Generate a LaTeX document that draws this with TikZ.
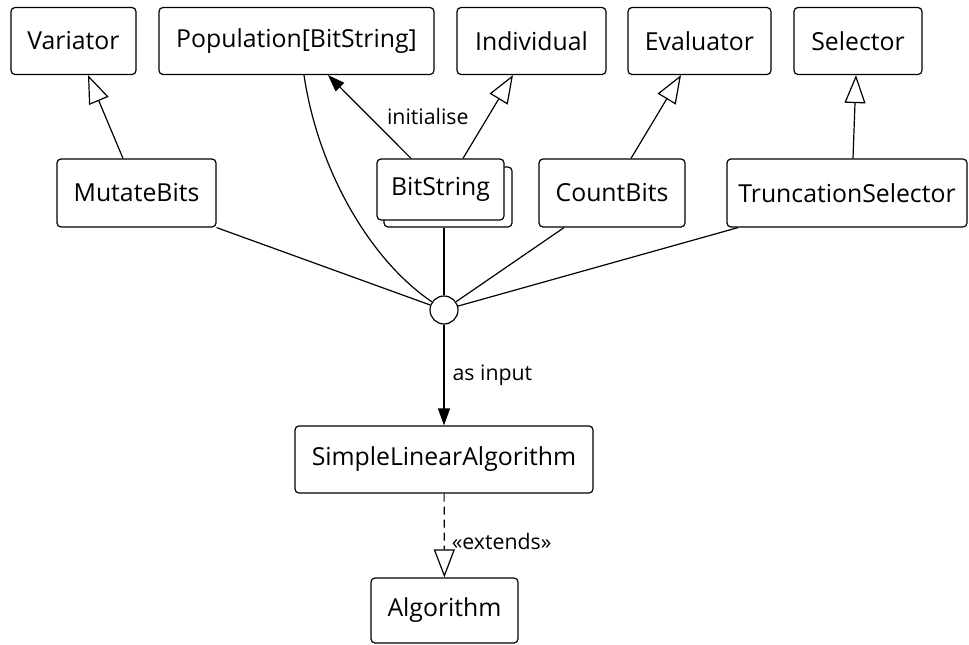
\documentclass[tikz,border=0pt]{standalone}
\usepackage{fontspec}
\setmainfont{Open Sans}
\usetikzlibrary{arrows.meta}
\begin{document}
\begin{tikzpicture}[x=1pt,y=-1pt,
  line width=1.2pt,
  box/.style={draw, rounded corners=4pt, fill=white, inner sep=0pt,
    font=\fontsize{24.8}{29}\selectfont},
  lbl/.style={inner sep=0pt, font=\fontsize{21.3}{26}\selectfont},
  gen/.style={-{Triangle[open, fill=white, length=28pt, width=21pt]}},
  nav/.style={-{Triangle[length=17pt, width=12pt]}}]
\useasboundingbox (0,0) rectangle (969,645);
% top row
\node[box, minimum width=125pt, minimum height=67pt] (var) at (73.5,41) {Variator};
\node[box, minimum width=275pt, minimum height=67pt] (pop) at (296.5,41) {Population[BitString]};
\node[box, minimum width=149pt, minimum height=67pt] (ind) at (531.5,41) {Individual};
\node[box, minimum width=143pt, minimum height=67pt] (eval) at (699.5,41) {Evaluator};
\node[box, minimum width=128pt, minimum height=67pt] (sel) at (858,41) {Selector};
% middle row
\node[box, minimum width=159pt, minimum height=68pt] (mut) at (136.5,193) {MutateBits};
\node[box, minimum width=128pt, minimum height=60pt] (bsb) at (448,197) {};
\node[box, minimum width=127pt, minimum height=61pt] (bs) at (440.5,189.5) {BitString};
\node[box, minimum width=146pt, minimum height=68pt] (cnt) at (612,193) {CountBits};
\node[box, minimum width=240pt, minimum height=68pt] (trunc) at (847,193) {TruncationSelector};
% junction
\node[draw, circle, fill=white, minimum size=28pt, inner sep=0pt] (c) at (444,310) {};
% bottom
\node[box, minimum width=298pt, minimum height=67pt] (sla) at (444,459.5) {SimpleLinearAlgorithm};
\node[box, minimum width=147pt, minimum height=65pt] (alg) at (444.5,610.5) {Algorithm};
% generalisations
\draw[gen] ([xshift=-13.5pt]mut.north) -- ([xshift=14.5pt]var.south);
\draw[gen] ([xshift=22.5pt]bs.north) -- ([xshift=-18.5pt]ind.south);
\draw[gen] ([xshift=19pt]cnt.north) -- ([xshift=-18.5pt]eval.south);
\draw[gen] ([xshift=6pt]trunc.north) -- ([xshift=-2pt]sel.south);
% initialise
\draw[nav] ([xshift=-29.5pt]bs.north) -- node[lbl, pos=0.5, right=17pt] (linit) {initialise} ([xshift=31.5pt]pop.south);
% to junction
\draw (mut.south east) -- (c);
\draw ([xshift=7.5pt]pop.south) .. controls (318,170) and (370,260) .. (c);
\draw ([xshift=-4pt]bsb.south) -- (c);
\draw ([xshift=-48pt]cnt.south) -- (c);
\draw ([xshift=-109pt]trunc.south) -- (c);
% as input
\draw[nav] (c) -- node[lbl, right=8pt] (lin) {as input} (sla);
% extends
\draw[gen, dashed, dash pattern=on 8pt off 5pt] (sla) -- node[lbl, pos=0.57, right=7pt] (lext) {«extends»} (alg);
\end{tikzpicture}
\end{document}
